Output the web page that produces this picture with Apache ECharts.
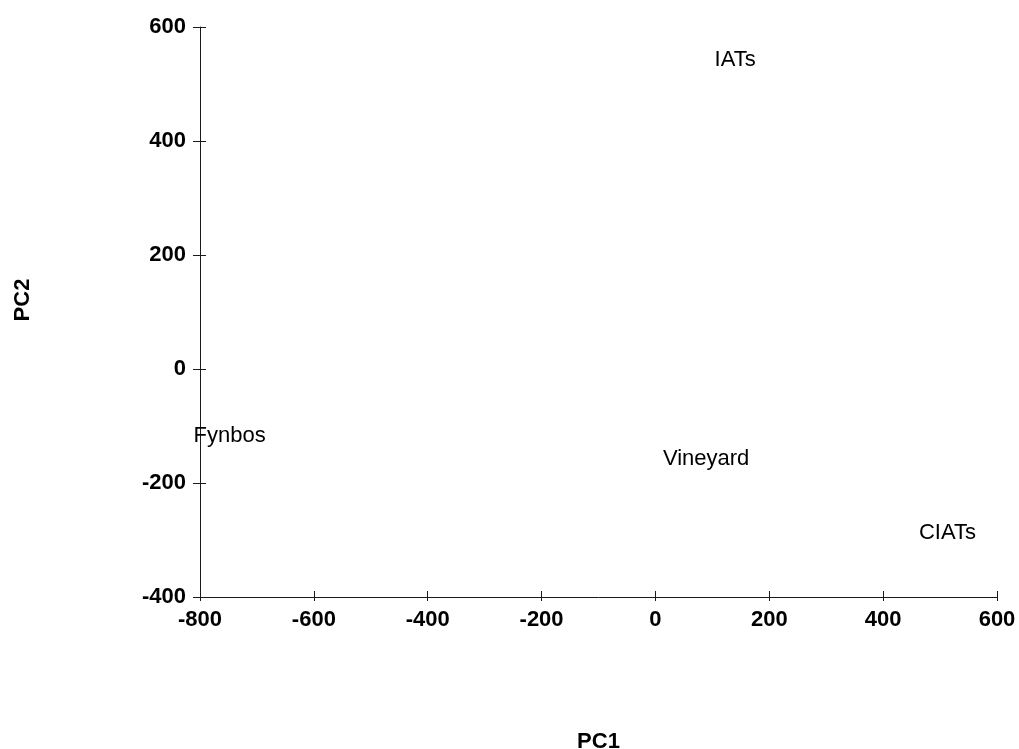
<!DOCTYPE html>
<html>
<head>
<meta charset="utf-8">
<script src="https://cdn.jsdelivr.net/npm/echarts@6/dist/echarts.min.js"></script>
<style>
  html, body { margin: 0; padding: 0; background: #fff; }
  #chart { width: 1019px; height: 749px; }
</style>
</head>
<body>
<div id="chart"></div>
<script>
// Site scores on the first two principal components
const siteNames = ['IATs', 'Vineyard', 'CIATs', 'Fynbos'];
const pc1Scores = [140, 89, 513, -748];
const pc2Scores = [542, -158, -288, -117];

// Axis ranges and tick spacing
const xRange = [-800, 600];
const yRange = [-400, 600];
const tickStep = 200;

const FONT = '"Liberation Sans", Arial, sans-serif';
const AXIS_COLOR = '#1a1a1a';

const points = siteNames.map((n, i) => [pc1Scores[i], pc2Scores[i], n]);

const chart = echarts.init(document.getElementById('chart'), null, { renderer: 'canvas' });

// Each axis is drawn twice on the same scale: once with outward ticks and labels,
// once with inward ticks only, so the tick marks cross the axis line.
const baseAxis = (range) => ({
  type: 'value',
  min: range[0],
  max: range[1],
  interval: tickStep,
  splitLine: { show: false },
  axisLine: { show: true, onZero: false, lineStyle: { color: AXIS_COLOR, width: 1 } },
});

chart.setOption({
  backgroundColor: '#ffffff',
  animation: false,
  grid: { left: 200, right: 22, top: 27, bottom: 152, containLabel: false, outerBoundsMode: 'none' },
  xAxis: [
    Object.assign(baseAxis(xRange), {
      position: 'bottom',
      name: 'PC1',
      nameLocation: 'middle',
      nameGap: 134,
      nameTextStyle: { fontFamily: FONT, fontSize: 22, fontWeight: 'bold', color: '#000' },
      axisTick: { show: true, inside: false, length: 4, lineStyle: { color: AXIS_COLOR } },
      axisLabel: { margin: 12, fontFamily: FONT, fontSize: 22, fontWeight: 'bold', color: '#000' },
    }),
    Object.assign(baseAxis(xRange), {
      position: 'bottom',
      axisLine: { show: false, onZero: false },
      axisTick: { show: true, inside: true, length: 6, lineStyle: { color: AXIS_COLOR } },
      axisLabel: { show: false },
    }),
  ],
  yAxis: [
    Object.assign(baseAxis(yRange), {
      position: 'left',
      name: 'PC2',
      nameLocation: 'middle',
      nameGap: 166,
      nameRotate: 90,
      nameTextStyle: { fontFamily: FONT, fontSize: 22, fontWeight: 'bold', color: '#000', padding: [0, 0, 0, 24] },
      axisTick: { show: true, inside: false, length: 7, lineStyle: { color: AXIS_COLOR } },
      axisLabel: { margin: 14, fontFamily: FONT, fontSize: 22, fontWeight: 'bold', color: '#000' },
    }),
    Object.assign(baseAxis(yRange), {
      position: 'left',
      axisLine: { show: false, onZero: false },
      axisTick: { show: true, inside: true, length: 6, lineStyle: { color: AXIS_COLOR } },
      axisLabel: { show: false },
    }),
  ],
  series: [{
    type: 'scatter',
    xAxisIndex: 0,
    yAxisIndex: 0,
    symbolSize: 0,
    itemStyle: { opacity: 1 },
    data: points,
    label: {
      show: true,
      position: 'inside',
      formatter: (p) => p.data[2],
      fontFamily: FONT,
      fontSize: 22,
      color: '#000',
      opacity: 1,
    },
    emphasis: { disabled: true },
  }],
});
</script>
</body>
</html>
